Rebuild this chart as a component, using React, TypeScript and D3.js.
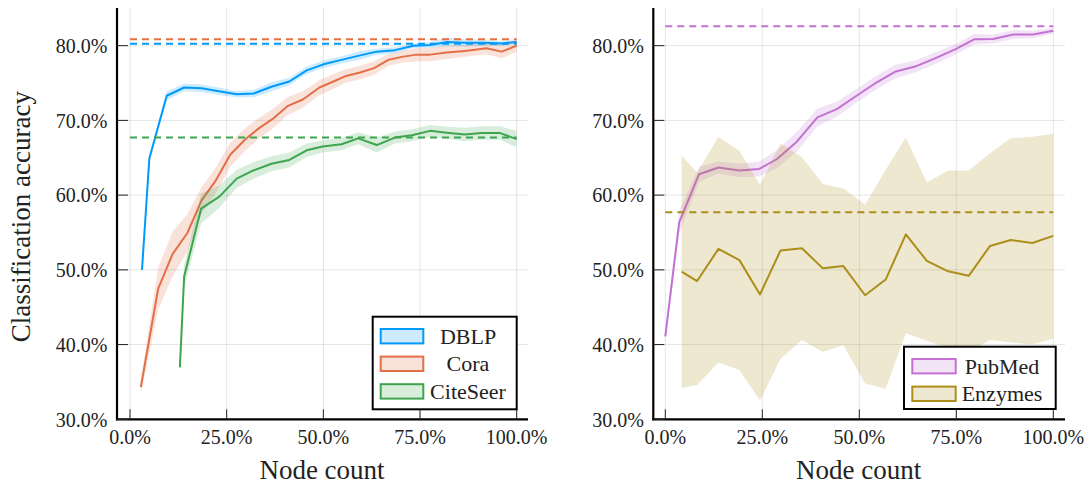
import React from "react";
import * as d3 from "d3";

const W = 1089;
const H = 484;

// ---- left panel data (accuracy in %) ----
const dblpX = [0.031, 0.05, 0.095, 0.14, 0.185, 0.23, 0.276, 0.32, 0.366, 0.412, 0.457, 0.5, 0.547, 0.595, 0.638, 0.685, 0.733, 0.776, 0.82, 0.866, 0.914, 0.96, 1.0];
const dblpAcc = [50, 64.9, 73.3, 74.4, 74.3, 73.9, 73.5, 73.6, 74.5, 75.2, 76.7, 77.5, 78.1, 78.7, 79.2, 79.4, 80.0, 80.1, 80.5, 80.4, 80.4, 80.3, 80.5];
const dblpErr = [0.3, 0.4, 0.6, 0.5, 0.5, 0.5, 0.4, 0.5, 0.6, 0.5, 0.5, 0.5, 0.5, 0.6, 0.4, 0.4, 0.3, 0.4, 0.6, 0.5, 0.4, 0.3, 0.3];

const coraX = [0.028, 0.073, 0.11, 0.148, 0.185, 0.22, 0.259, 0.297, 0.332, 0.369, 0.407, 0.447, 0.49, 0.526, 0.556, 0.595, 0.631, 0.668, 0.703, 0.741, 0.776, 0.819, 0.866, 0.922, 0.961, 1.0];
const coraAcc = [34.3, 47.5, 52.1, 54.9, 59.3, 61.8, 65.4, 67.4, 68.9, 70.2, 71.9, 72.8, 74.4, 75.2, 75.9, 76.4, 77.0, 78.1, 78.5, 78.8, 78.8, 79.1, 79.3, 79.65, 79.2, 80.0];
const coraErr = [1.0, 2.8, 3.0, 2.5, 1.8, 1.7, 1.6, 1.5, 1.4, 1.3, 1.2, 1.1, 1.0, 1.0, 0.9, 0.9, 0.9, 0.8, 0.8, 0.9, 0.9, 0.9, 0.8, 0.8, 0.9, 0.8];

const citeseerX = [0.129, 0.14, 0.184, 0.231, 0.276, 0.319, 0.366, 0.412, 0.457, 0.498, 0.547, 0.59, 0.638, 0.685, 0.729, 0.776, 0.819, 0.866, 0.909, 0.957, 1.0];
const citeseerAcc = [36.95, 49.1, 58.2, 59.8, 62.2, 63.3, 64.2, 64.7, 66.0, 66.5, 66.8, 67.6, 66.7, 67.7, 68.0, 68.6, 68.35, 68.1, 68.3, 68.3, 67.5];
const citeseerErr = [0.3, 1.5, 2.0, 1.5, 1.2, 1.1, 1.0, 1.0, 0.9, 0.8, 0.8, 0.8, 1.0, 0.8, 0.8, 0.8, 0.8, 0.9, 0.9, 0.9, 1.1];

// ---- right panel data ----
const pubmedX = [0, 0.036, 0.087, 0.137, 0.191, 0.242, 0.287, 0.339, 0.392, 0.442, 0.493, 0.545, 0.592, 0.644, 0.695, 0.747, 0.796, 0.845, 0.897, 0.948, 1.0];
const pubmedAcc = [41.1, 56.4, 62.8, 63.7, 63.3, 63.5, 64.8, 67.15, 70.4, 71.5, 73.3, 75.1, 76.5, 77.2, 78.3, 79.5, 80.85, 80.9, 81.5, 81.5, 82.0];
const pubmedErr = [0.5, 1.5, 1.0, 0.8, 0.9, 1.0, 1.2, 1.3, 1.2, 1.0, 0.9, 0.9, 0.9, 0.8, 0.8, 0.7, 0.7, 0.6, 0.6, 0.5, 0.4];

const enzymesX = [0.042, 0.082, 0.137, 0.191, 0.244, 0.297, 0.352, 0.406, 0.459, 0.515, 0.568, 0.62, 0.674, 0.729, 0.782, 0.837, 0.89, 0.946, 1.0];
const enzymesAcc = [49.75, 48.5, 52.8, 51.3, 46.7, 52.6, 52.9, 50.2, 50.5, 46.6, 48.7, 54.75, 51.2, 49.8, 49.2, 53.2, 54.0, 53.6, 54.55];
const enzymesHi = [65.3, 63.0, 67.8, 65.9, 61.35, 66.9, 65.1, 61.5, 60.9, 58.7, 63.4, 67.7, 61.7, 63.3, 63.3, 65.6, 67.6, 67.8, 68.2];
const enzymesLo = [34.2, 34.6, 37.6, 36.6, 32.5, 38.1, 40.6, 39.0, 39.9, 34.8, 34.1, 41.5, 40.5, 39.5, 39.0, 40.6, 40.3, 40.0, 40.8];

// full-graph baselines (dashed)
const dblpBase = 80.27;
const coraBase = 80.85;
const citeseerBase = 67.7;
const pubmedBase = 82.6;
const enzymesBase = 57.7;

const xTicks = [0, 0.25, 0.5, 0.75, 1];
const yTicks = [30, 40, 50, 60, 70, 80];

const FONT = "'Liberation Serif', 'DejaVu Serif', serif";

type Series = {
  name: string;
  color: string;
  xs: number[];
  mean: number[];
  lo: number[];
  hi: number[];
  base: number;
};

const sym = (m: number[], e: number[], s: number) => m.map((v, i) => v + s * e[i]);

const leftSeries: Series[] = [
  { name: "DBLP", color: "#009AFA", xs: dblpX, mean: dblpAcc, lo: sym(dblpAcc, dblpErr, -1), hi: sym(dblpAcc, dblpErr, 1), base: dblpBase },
  { name: "Cora", color: "#E36F47", xs: coraX, mean: coraAcc, lo: sym(coraAcc, coraErr, -1), hi: sym(coraAcc, coraErr, 1), base: coraBase },
  { name: "CiteSeer", color: "#3EA44E", xs: citeseerX, mean: citeseerAcc, lo: sym(citeseerAcc, citeseerErr, -1), hi: sym(citeseerAcc, citeseerErr, 1), base: citeseerBase },
];

const rightSeries: Series[] = [
  { name: "PubMed", color: "#C371D2", xs: pubmedX, mean: pubmedAcc, lo: sym(pubmedAcc, pubmedErr, -1), hi: sym(pubmedAcc, pubmedErr, 1), base: pubmedBase },
  { name: "Enzymes", color: "#AC8E18", xs: enzymesX, mean: enzymesAcc, lo: enzymesLo, hi: enzymesHi, base: enzymesBase },
];

type PanelProps = {
  series: Series[];
  frameL: number;
  frameR: number;
  x0: number;
  x1: number;
  legend: { x: number; y: number; w: number; h: number; swL: number; swW: number; textX: number };
  yTitle?: boolean;
};

const TOP = 8;
const BOTTOM = 419.3;

function Panel({ series, frameL, frameR, x0, x1, legend, yTitle }: PanelProps) {
  const x = d3.scaleLinear().domain([0, 1]).range([x0, x1]);
  const y = d3.scaleLinear().domain([30, 85]).range([BOTTOM, 8.3]);
  const fmtX = d3.format(".1%");

  return (
    <g>
      {/* grid */}
      {xTicks.map((t) => (
        <line key={"gx" + t} x1={x(t)} x2={x(t)} y1={TOP} y2={BOTTOM} stroke="#000" strokeOpacity={0.1} strokeWidth={1} />
      ))}
      {yTicks.map((t) => (
        <line key={"gy" + t} x1={frameL} x2={frameR} y1={y(t)} y2={y(t)} stroke="#000" strokeOpacity={0.1} strokeWidth={1} />
      ))}

      {/* ribbons + lines */}
      {series.map((s) => {
        const idx = s.xs.map((_, i) => i);
        const area = d3
          .area<number>()
          .x((i) => x(s.xs[i]))
          .y0((i) => y(s.lo[i]))
          .y1((i) => y(s.hi[i]));
        const line = d3
          .line<number>()
          .x((i) => x(s.xs[i]))
          .y((i) => y(s.mean[i]));
        return (
          <g key={s.name}>
            <path d={area(idx) || ""} fill={s.color} fillOpacity={0.2} stroke="none" />
            <path d={line(idx) || ""} fill="none" stroke={s.color} strokeWidth={2} strokeLinejoin="round" />
          </g>
        );
      })}

      {/* dashed baselines */}
      {series.map((s) => (
        <line key={"b" + s.name} x1={x(0)} x2={x(1)} y1={y(s.base)} y2={y(s.base)} stroke={s.color} strokeWidth={2} strokeDasharray="7,5" />
      ))}

      {/* spines */}
      <line x1={frameL} x2={frameL} y1={TOP} y2={BOTTOM + 1} stroke="#000" strokeWidth={2.2} />
      <line x1={frameL - 1} x2={frameR} y1={BOTTOM} y2={BOTTOM} stroke="#000" strokeWidth={2.2} />

      {/* ticks */}
      {xTicks.map((t) => (
        <g key={"tx" + t}>
          <line x1={x(t)} x2={x(t)} y1={BOTTOM} y2={BOTTOM - 10} stroke="#222" strokeWidth={1} />
          <text x={x(t)} y={444} fontFamily={FONT} fontSize={20} textAnchor="middle" fill="#222">
            {fmtX(t)}
          </text>
        </g>
      ))}
      {yTicks.map((t) => (
        <g key={"ty" + t}>
          <line x1={frameL} x2={frameL + 11} y1={y(t)} y2={y(t)} stroke="#222" strokeWidth={1} />
          <text x={frameL - 9.5} y={y(t) + 7.3} fontFamily={FONT} fontSize={20} textAnchor="end" fill="#222">
            {t.toFixed(1)}%
          </text>
        </g>
      ))}

      {/* axis titles */}
      <text x={(frameL + frameR) / 2 - 0.5} y={479} fontFamily={FONT} fontSize={27} textAnchor="middle" fill="#222">
        Node count
      </text>
      {yTitle && (
        <text transform={`translate(30,${(TOP + BOTTOM) / 2 + 3}) rotate(-90)`} fontFamily={FONT} fontSize={27} textAnchor="middle" fill="#222">
          Classification accuracy
        </text>
      )}

      {/* legend */}
      <rect x={legend.x} y={legend.y} width={legend.w} height={legend.h} fill="#fff" stroke="#000" strokeWidth={2} />
      {series.map((s, i) => {
        const cy = legend.y + 19.5 + i * 27.6;
        return (
          <g key={"lg" + s.name}>
            <rect x={legend.swL} y={cy - 7.2} width={legend.swW} height={14.4} fill={s.color} fillOpacity={0.2} stroke={s.color} strokeWidth={2} />
            <text x={legend.textX} y={cy + 7.3} fontFamily={FONT} fontSize={22} textAnchor="middle" fill="#222">
              {s.name}
            </text>
          </g>
        );
      })}
    </g>
  );
}

export default function App() {
  return (
    <svg width={W} height={H} viewBox={`0 0 ${W} ${H}`} style={{ position: "absolute", left: 0, top: 0, background: "#fff" }}>
      <rect x={0} y={0} width={W} height={H} fill="#fff" />
      <Panel
        series={leftSeries}
        frameL={117}
        frameR={528}
        x0={130}
        x1={516.7}
        legend={{ x: 372.7, y: 316.7, w: 144, h: 92.6, swL: 380.7, swW: 42.6, textX: 468 }}
        yTitle
      />
      <Panel
        series={rightSeries}
        frameL={653.3}
        frameR={1065}
        x0={665.3}
        x1={1053.3}
        legend={{ x: 904, y: 346.7, w: 151.7, h: 62.3, swL: 912.3, swW: 43.4, textX: 1002 }}
      />
    </svg>
  );
}
